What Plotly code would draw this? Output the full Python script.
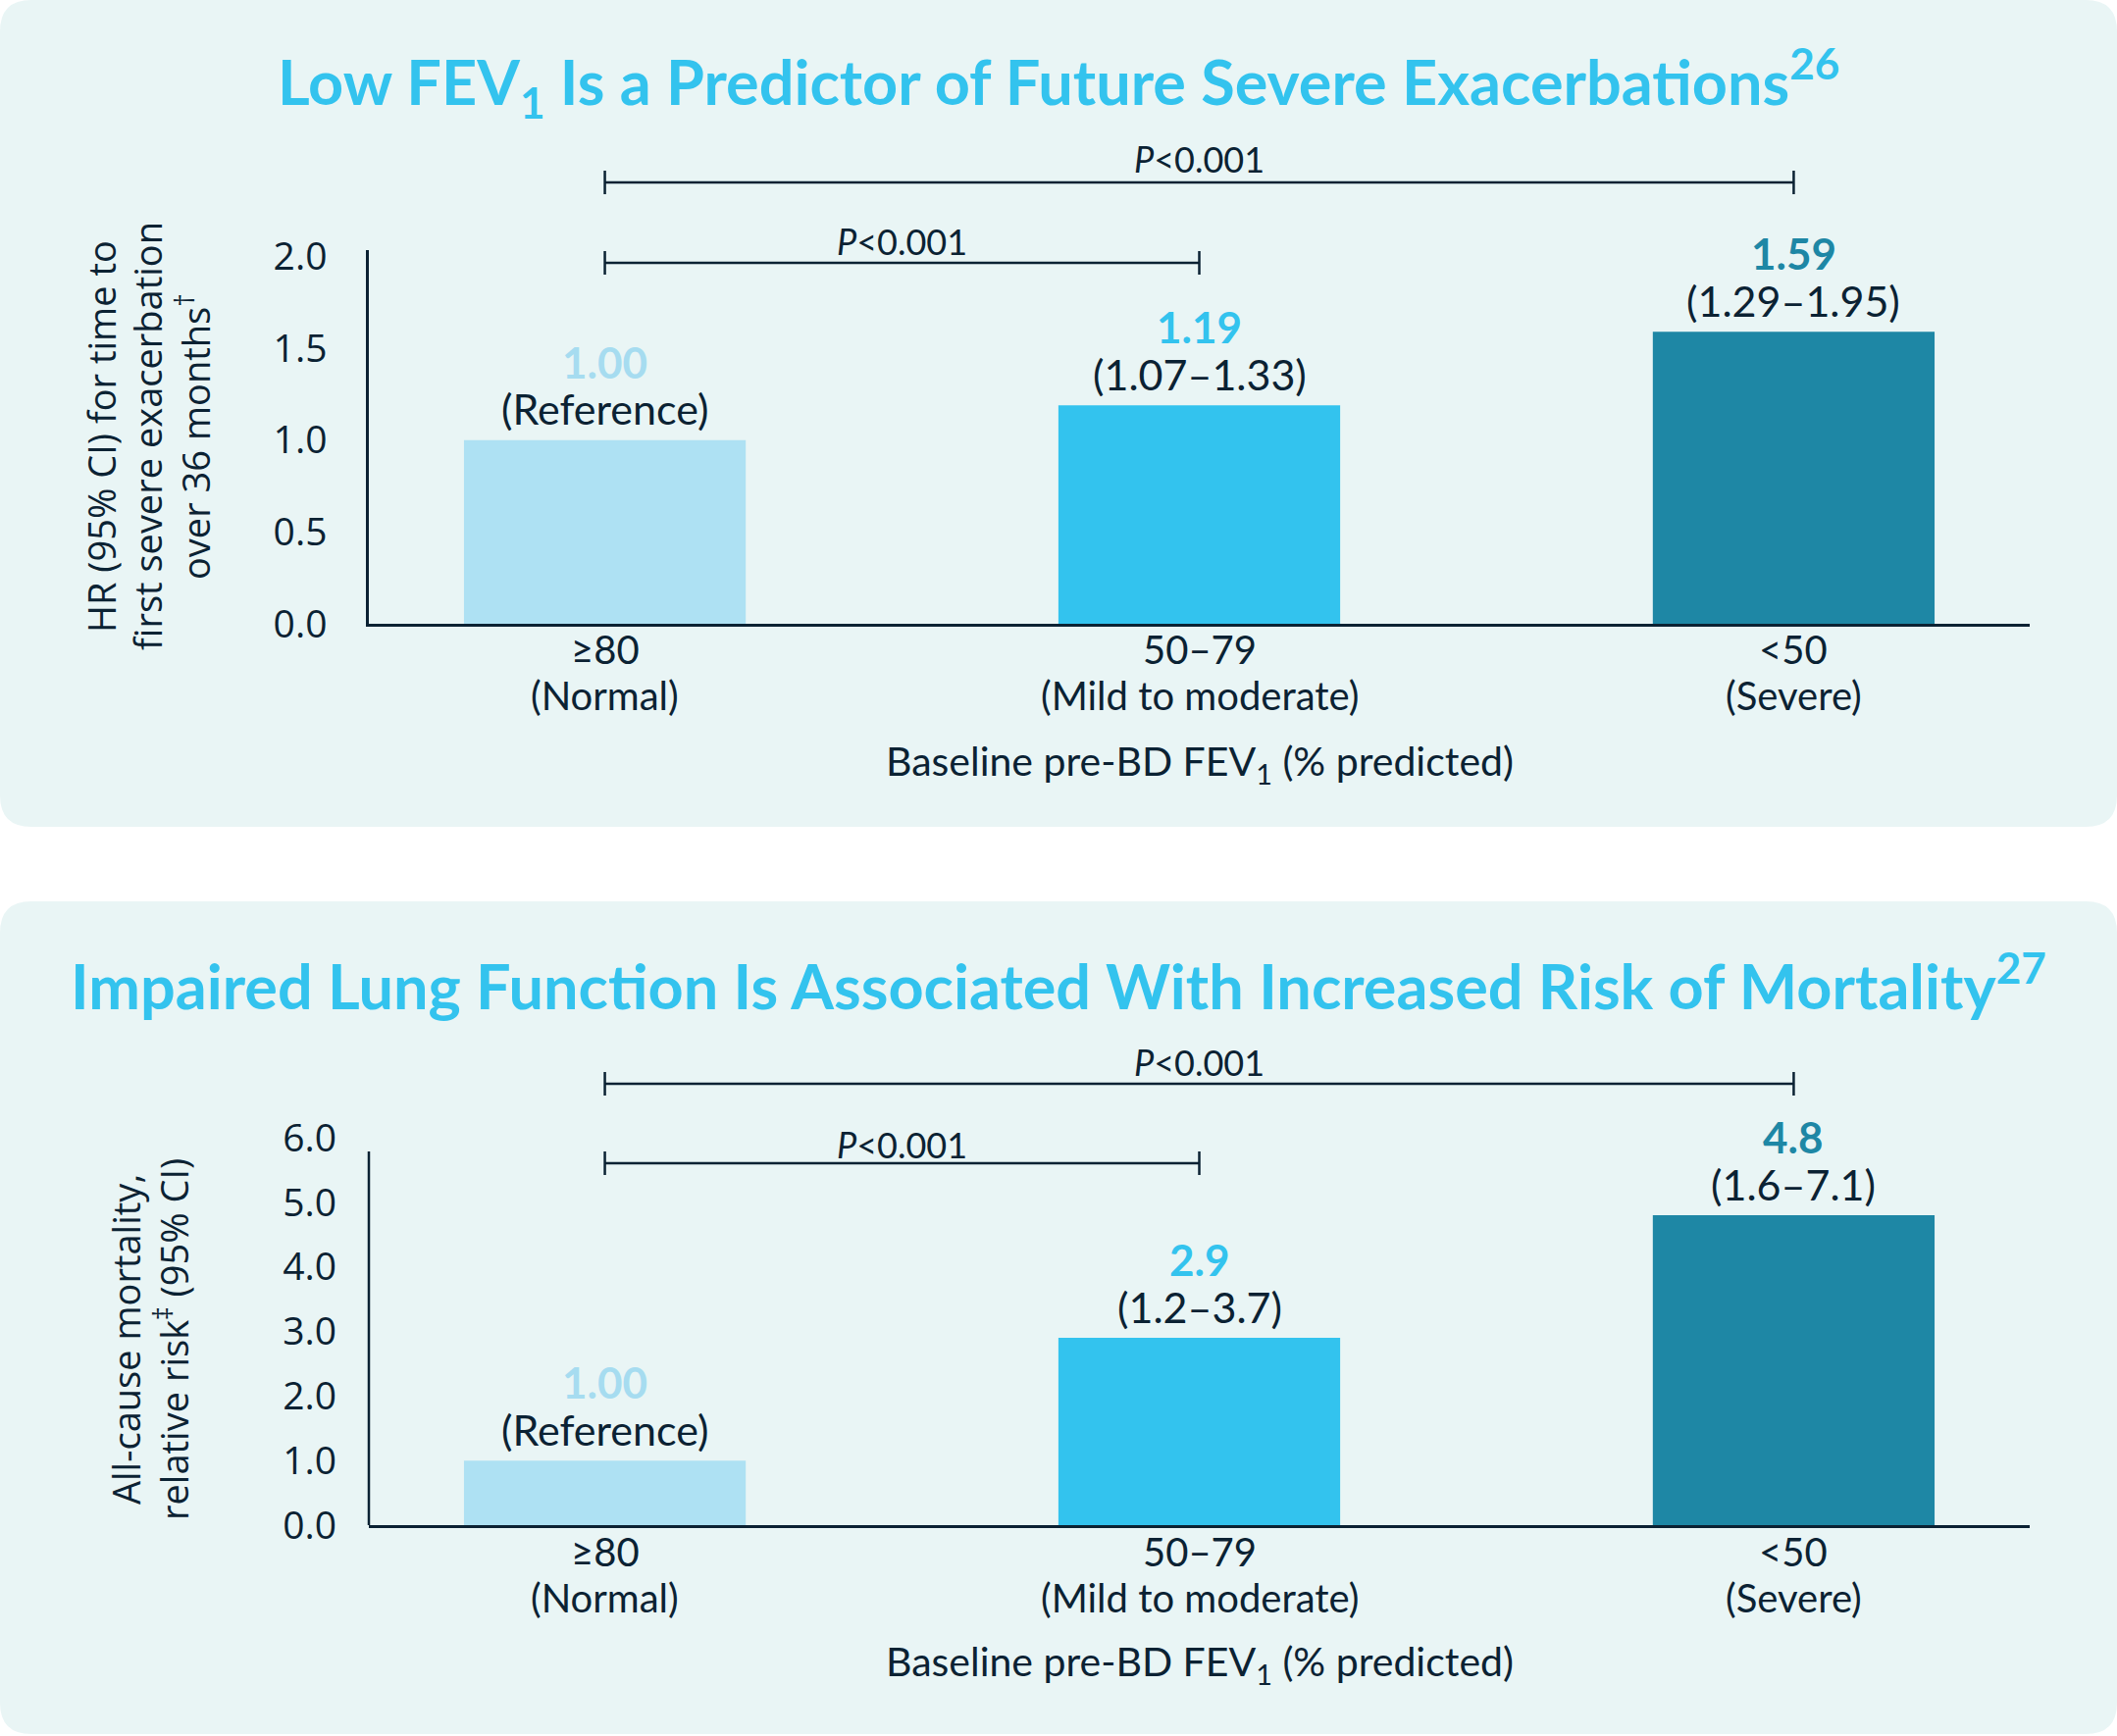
import plotly.graph_objects as go

# ---- data ----
categories = ["≥80", "50–79", "<50"]
category_notes = ["(Normal)", "(Mild to moderate)", "(Severe)"]
bar_colors = ["#AEE1F3", "#33C3EE", "#1E87A5"]
label_colors = ["#A6DCF0", "#33C3EE", "#1E87A5"]

hr_values = [1.00, 1.19, 1.59]
hr_labels = ["1.00", "1.19", "1.59"]
hr_ci = ["(Reference)", "(1.07–1.33)", "(1.29–1.95)"]

mort_values = [1.0, 2.9, 4.8]
mort_labels = ["1.00", "2.9", "4.8"]
mort_ci = ["(Reference)", "(1.2–3.7)", "(1.6–7.1)"]

hr_ticks = [0.0, 0.5, 1.0, 1.5, 2.0]
mort_ticks = [0.0, 1.0, 2.0, 3.0, 4.0, 5.0, 6.0]

# (from category, to category, text)
brackets = [(0, 2, "<i>P</i>&lt;0.001"), (0, 1, "<i>P</i>&lt;0.001")]

title_top = "Low FEV<sub>1</sub> Is a Predictor of Future Severe Exacerbations<sup>26</sup>"
title_bot = "Impaired Lung Function Is Associated With Increased Risk of Mortality<sup>27</sup>"
xtitle = "Baseline pre-BD FEV<sub>1</sub> (% predicted)"
ytitle_top = ["HR (95% CI) for time to", "first severe exacerbation", "over 36 months<sup>†</sup>"]
ytitle_bot = ["All-cause mortality,", "relative risk<sup>‡</sup> (95% CI)"]

# ---- style ----
W, H = 2158, 1770
DARK = "#0B2233"
PANEL = "#E9F5F5"
CYAN = "#33C3EE"
MAIN_FONT = "Lato"
AX_FONT = "Open Sans"


def py(px):
    return 1 - px / H


def pxx(px):
    return px / W


fig = go.Figure()

fig.add_trace(go.Bar(x=[0, 1, 2], y=hr_values, width=0.474,
                     marker=dict(color=bar_colors, line_width=0),
                     xaxis="x", yaxis="y", hoverinfo="skip"))
fig.add_trace(go.Bar(x=[0, 1, 2], y=mort_values, width=0.474,
                     marker=dict(color=bar_colors, line_width=0),
                     xaxis="x2", yaxis="y2", hoverinfo="skip"))

shapes = []
annotations = []


# rounded panel background
def panel(y0, y1, r=32):
    x0, x1 = 0, W
    p = (f"M {pxx(x0 + r)},{py(y0)} L {pxx(x1 - r)},{py(y0)} "
         f"Q {pxx(x1)},{py(y0)} {pxx(x1)},{py(y0 + r)} "
         f"L {pxx(x1)},{py(y1 - r)} Q {pxx(x1)},{py(y1)} {pxx(x1 - r)},{py(y1)} "
         f"L {pxx(x0 + r)},{py(y1)} Q {pxx(x0)},{py(y1)} {pxx(x0)},{py(y1 - r)} "
         f"L {pxx(x0)},{py(y0 + r)} Q {pxx(x0)},{py(y0)} {pxx(x0 + r)},{py(y0)} Z")
    return dict(type="path", path=p, xref="paper", yref="paper",
                fillcolor=PANEL, line_width=0, layer="below")


shapes.append(panel(0, 843))
shapes.append(panel(919, 1768))

panels = [
    dict(xa="x", ya="y", title=title_top, title_y=83, br_y=[186, 268], br_txt=[162, 246],
         tick_y=[662, 709], xt_y=778, yt=ytitle_top, yt_x=[103, 150, 197], yt_y=445,
         values=hr_values, labels=hr_labels, ci=hr_ci, axis_top=None),
    dict(xa="x2", ya="y2", title=title_bot, title_y=1000, br_y=[1105, 1186], br_txt=[1083, 1167],
         tick_y=[1582, 1629], xt_y=1696, yt=ytitle_bot, yt_x=[128, 175], yt_y=1366,
         values=mort_values, labels=mort_labels, ci=mort_ci, axis_top=5.79),
]

for p in panels:
    annotations.append(dict(text=p["title"], x=0.5, y=py(p["title_y"]), xref="paper", yref="paper",
                            showarrow=False, xanchor="center", yanchor="middle",
                            font=dict(family=MAIN_FONT, size=63, color=CYAN, weight=700)))
    # significance brackets
    for (a, b, txt), ly, ty in zip(brackets, p["br_y"], p["br_txt"]):
        shapes.append(dict(type="line", xref=p["xa"], yref="paper", x0=a, x1=b,
                           y0=py(ly), y1=py(ly), line=dict(color=DARK, width=2.5)))
        for xe in (a, b):
            shapes.append(dict(type="line", xref=p["xa"], yref="paper", x0=xe, x1=xe,
                               y0=py(ly - 12), y1=py(ly + 12), line=dict(color=DARK, width=2.5)))
        annotations.append(dict(text=txt, x=(a + b) / 2, y=py(ty), xref=p["xa"], yref="paper",
                                showarrow=False, yanchor="middle",
                                font=dict(family=MAIN_FONT, size=36, color=DARK)))
    # value labels above bars
    for i, (v, lab, ci) in enumerate(zip(p["values"], p["labels"], p["ci"])):
        annotations.append(dict(text=lab, x=i, y=v, xref=p["xa"], yref=p["ya"], yshift=80,
                                showarrow=False, yanchor="middle",
                                font=dict(family=MAIN_FONT, size=44, color=label_colors[i], weight=700)))
        annotations.append(dict(text=ci, x=i, y=v, xref=p["xa"], yref=p["ya"], yshift=32,
                                showarrow=False, yanchor="middle",
                                font=dict(family=MAIN_FONT, size=43, color=DARK)))
    # category labels (two lines)
    for i, (c, n) in enumerate(zip(categories, category_notes)):
        for txt, ty in zip((c, n), p["tick_y"]):
            annotations.append(dict(text=txt, x=i, y=py(ty), xref=p["xa"], yref="paper",
                                    showarrow=False, yanchor="middle",
                                    font=dict(family=MAIN_FONT, size=40, color=DARK)))
    annotations.append(dict(text=xtitle, x=1, y=py(p["xt_y"]), xref=p["xa"], yref="paper",
                            showarrow=False, yanchor="middle",
                            font=dict(family=MAIN_FONT, size=41, color=DARK)))
    for line, lx in zip(p["yt"], p["yt_x"]):
        annotations.append(dict(text=line, x=pxx(lx), y=py(p["yt_y"]), xref="paper", yref="paper",
                                showarrow=False, xanchor="center", yanchor="middle", textangle=-90,
                                font=dict(family=AX_FONT, size=38, color=DARK)))
    if p["axis_top"] is not None:
        shapes.append(dict(type="line", xref="paper", yref=p["ya"], x0=pxx(376), x1=pxx(376),
                           y0=0, y1=p["axis_top"], line=dict(color=DARK, width=2.5)))

xdom = [pxx(376), pxx(2069)]
xax = dict(domain=xdom, range=[-0.397, 2.397], showticklabels=False, showgrid=False,
           zeroline=False, showline=True, linecolor=DARK, linewidth=3, ticks="",
           fixedrange=True, automargin=False)
yax_common = dict(showgrid=False, zeroline=False, ticks="", tickformat=".1f", automargin=False,
                  tickfont=dict(family=AX_FONT, size=39, color=DARK), ticklabelstandoff=32)

fig.update_layout(
    width=W, height=H,
    margin=dict(l=0, r=0, t=0, b=0, pad=0, autoexpand=False),
    paper_bgcolor="white", plot_bgcolor="rgba(0,0,0,0)",
    showlegend=False,
    xaxis=dict(**xax, anchor="y"),
    xaxis2=dict(**xax, anchor="y2"),
    yaxis=dict(**yax_common, domain=[py(636), py(255)], range=[0, 2.035], tickvals=hr_ticks,
               showline=True, linecolor=DARK, linewidth=2.5, anchor="x"),
    yaxis2=dict(**yax_common, domain=[py(1555), py(1159.4)], range=[0, 6.01], tickvals=mort_ticks,
                showline=False, anchor="x2"),
    shapes=shapes,
    annotations=annotations,
)

fig.write_html("out.html", config={"displayModeBar": False},
               post_script="document.body.style.margin='0px';document.body.style.overflow='hidden';")
